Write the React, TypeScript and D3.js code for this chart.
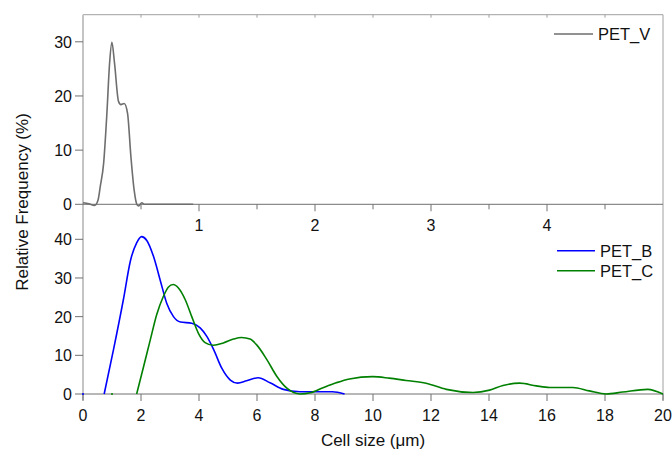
import * as d3 from "d3";

// PET_V: size (um) vs relative frequency (%), top panel
const petVSize = [0, 0.05, 0.1, 0.13, 0.149, 0.178, 0.206, 0.229, 0.249, 0.272, 0.306, 0.327, 0.355, 0.384, 0.413, 0.441, 0.464, 0.48, 0.507, 0.53, 0.95];
const petVFreq = [0.3, 0.1, -0.2, 0.8, 3.3, 7.6, 16.8, 26, 29.9, 26, 19, 18.4, 18.6, 16.8, 8.8, 2.6, 0, -0.3, 0.3, 0, 0];

// PET_B, bottom panel
const petBSize = [0.73, 1.05, 1.39, 1.64, 1.85, 2.02, 2.2, 2.43, 2.66, 2.89, 3.12, 3.36, 3.75, 4.04, 4.27, 4.51, 4.79, 5.08, 5.33, 5.64, 6.04, 6.45, 6.91, 7.48, 8.06, 8.6, 9.02];
const petBFreq = [0, 11.4, 24.3, 34.6, 39.1, 40.7, 39.7, 35.6, 29.5, 23.4, 20, 18.6, 18.3, 17.1, 14.9, 11.4, 6.6, 3.6, 2.8, 3.4, 4.2, 2.9, 1.2, 0.6, 0.6, 0.6, 0];

// PET_C, bottom panel
const petCSize = [1.85, 2.09, 2.32, 2.54, 2.77, 2.94, 3.11, 3.29, 3.53, 3.75, 3.98, 4.21, 4.5, 4.84, 5.19, 5.47, 5.76, 5.99, 6.34, 6.68, 7.03, 7.49, 7.84, 8.3, 8.73, 9.19, 9.99, 10.56, 11.14, 11.83, 12.53, 13.45, 14.02, 14.48, 15.06, 15.63, 16.09, 16.89, 17.46, 18.04, 18.61, 19.47, 20];
const petCFreq = [0, 7.1, 14, 20.5, 25.2, 27.6, 28.3, 27.4, 24.3, 20, 15.7, 13.3, 12.6, 13.2, 14.2, 14.6, 14.2, 12.7, 8.9, 4.6, 1.5, 0, 0.3, 1.7, 2.9, 3.9, 4.5, 4.1, 3.5, 2.8, 1.2, 0.4, 1.0, 2.2, 2.8, 2.1, 1.7, 1.7, 0.8, 0, 0.5, 1.2, 0];

const topXTicks = [1, 2, 3, 4];
const topYTicks = [0, 10, 20, 30];
const botXTicks = [0, 2, 4, 6, 8, 10, 12, 14, 16, 18, 20];
const botYTicks = [0, 10, 20, 30, 40];

const FONT = "Liberation Sans, Arial, sans-serif";

export default function App() {
  const left = 83;
  const right = 663;
  const top = 14.7;
  const mid = 204.3;
  const bottom = 394;

  const xTop = d3.scaleLinear().domain([0, 5]).range([left, right]);
  const yTop = d3.scaleLinear().domain([0, 35]).range([mid, top]);
  const xBot = d3.scaleLinear().domain([0, 20]).range([left, right]);
  const yBot = d3.scaleLinear().domain([0, 40]).range([bottom, 239.3]);

  const lineTop = d3
    .line<number>()
    .x((d, i) => xTop(petVSize[i]))
    .y((d) => yTop(d))
    .curve(d3.curveMonotoneX);
  const lineB = d3
    .line<number>()
    .x((d, i) => xBot(petBSize[i]))
    .y((d) => yBot(d))
    .curve(d3.curveMonotoneX);
  const lineC = d3
    .line<number>()
    .x((d, i) => xBot(petCSize[i]))
    .y((d) => yBot(d))
    .curve(d3.curveMonotoneX);

  const halfTicks = d3.range(0.5, 5, 0.5);

  return (
    <svg
      width={672}
      height={453}
      style={{ position: "absolute", left: 0, top: 0, background: "#fff" }}
      fontFamily={FONT}
    >
      {/* frame */}
      <line x1={left} x2={right} y1={top} y2={top} stroke="#a0a0a0" strokeWidth={1} />
      <line x1={right} x2={right} y1={top} y2={bottom + 6} stroke="#a0a0a0" strokeWidth={1} />
      <line x1={left} x2={left} y1={top} y2={bottom + 6} stroke="#c4c4c4" strokeWidth={2} />
      {halfTicks.map((t) => (
        <line key={"tt" + t} x1={xTop(t)} x2={xTop(t)} y1={top} y2={top + 3} stroke="#a0a0a0" />
      ))}

      {/* top panel axes */}
      <line x1={left} x2={right} y1={mid} y2={mid} stroke="#707070" strokeWidth={1} />
      {halfTicks.map((t) => (
        <line
          key={"tb" + t}
          x1={xTop(t)}
          x2={xTop(t)}
          y1={mid}
          y2={mid + (Number.isInteger(t) ? 7 : 5)}
          stroke="#707070"
        />
      ))}
      {topXTicks.map((t) => (
        <text key={"tl" + t} x={xTop(t)} y={mid + 27} fontSize={16} textAnchor="middle" fill="#111">
          {t}
        </text>
      ))}
      {topYTicks.map((t) => (
        <g key={"ty" + t}>
          <line x1={left - 8} x2={left} y1={yTop(t)} y2={yTop(t)} stroke="#707070" />
          <text x={left - 11} y={yTop(t) + 6} fontSize={16} textAnchor="end" fill="#111">
            {t}
          </text>
        </g>
      ))}

      {/* bottom panel axes */}
      <line x1={left} x2={right} y1={bottom} y2={bottom} stroke="#707070" strokeWidth={1} />
      {botXTicks.map((t) => (
        <g key={"bx" + t}>
          <line x1={xBot(t)} x2={xBot(t)} y1={bottom} y2={bottom + 7} stroke="#707070" />
          <text x={xBot(t)} y={bottom + 27} fontSize={16} textAnchor="middle" fill="#111">
            {t}
          </text>
        </g>
      ))}
      {botYTicks.map((t) => (
        <g key={"by" + t}>
          <line x1={left - 8} x2={left} y1={yBot(t)} y2={yBot(t)} stroke="#707070" />
          <text x={left - 11} y={yBot(t) + 6} fontSize={16} textAnchor="end" fill="#111">
            {t}
          </text>
        </g>
      ))}

      {/* data */}
      <path d={lineTop(petVFreq) || ""} fill="none" stroke="#6e6e6e" strokeWidth={1.6} />
      <path d={lineB(petBFreq) || ""} fill="none" stroke="#0000ff" strokeWidth={1.6} />
      <path d={lineC(petCFreq) || ""} fill="none" stroke="#008000" strokeWidth={1.6} />
      <circle cx={xBot(0)} cy={yBot(0)} r={1} fill="#0000ff" />
      <circle cx={xBot(1)} cy={yBot(0)} r={1} fill="#008000" />

      {/* legends */}
      <line x1={554} x2={593} y1={34} y2={34} stroke="#6e6e6e" strokeWidth={1.6} />
      <text x={598} y={40} fontSize={16.5} fill="#111">PET_V</text>
      <line x1={557} x2={595} y1={250.7} y2={250.7} stroke="#0000ff" strokeWidth={1.6} />
      <text x={600} y={256.7} fontSize={16.5} fill="#111">PET_B</text>
      <line x1={557} x2={595} y1={270.7} y2={270.7} stroke="#008000" strokeWidth={1.6} />
      <text x={600} y={276.7} fontSize={16.5} fill="#111">PET_C</text>

      {/* axis titles */}
      <text x={373} y={446} fontSize={17} textAnchor="middle" fill="#111">
        Cell size ({"\u03bc"}m)
      </text>
      <text
        transform={`translate(28,202) rotate(-90)`}
        fontSize={17}
        textAnchor="middle"
        fill="#111"
      >
        Relative Frequency (%)
      </text>
    </svg>
  );
}
